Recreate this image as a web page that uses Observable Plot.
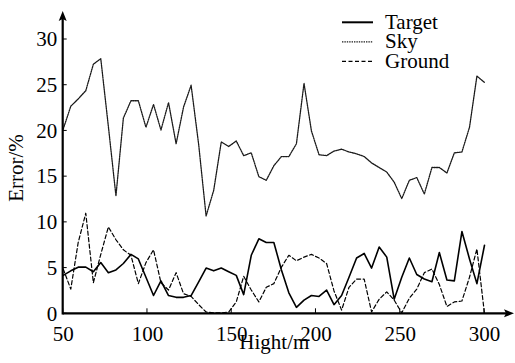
<!DOCTYPE html>
<html>
<head>
<meta charset="utf-8">
<script src="https://cdn.jsdelivr.net/npm/d3@7"></script>
<script src="https://cdn.jsdelivr.net/npm/@observablehq/plot@0.6"></script>
<style>
  html, body { margin: 0; padding: 0; background: white; }
  #chart svg, #chart svg text { font-family: "Liberation Serif", "Times New Roman", Times, serif; }
</style>
</head>
<body>
<div id="chart"></div>
<script>
const heights = [50,54.5,58.9,63.4,67.9,72.3,76.8,81.3,85.7,90.2,94.6,99.1,103.6,108,112.5,117,121.4,125.9,130.4,134.8,139.3,143.8,148.2,152.7,157.1,161.6,166.1,170.5,175,179.5,183.9,188.4,192.9,197.3,201.8,206.3,210.7,215.2,219.6,224.1,228.6,233,237.5,242,246.4,250.9,255.4,259.8,264.3,268.8,273.2,277.7,282.1,286.6,291.1,295.5,300];
const target = [4.2,4.7,5.1,5.1,4.6,5.6,4.5,4.8,5.5,6.5, 6.0,4.0,2.0,3.6,2.0,1.8,1.8,2.0,3.5,5.0, 4.7,5.0,4.6,4.2,2.1,6.4,8.2,7.8,7.8,4.8, 2.3,0.7,1.5,2.0,1.9,2.6,1.0,2.0,4.0,6.1, 6.6,5.0,7.3,6.2,1.6,4.0,6.1,4.3,3.8,3.5, 6.7,3.7,3.6,9.0,6.0,3.3,7.5];
const sky = [20.2,22.7,23.5,24.4,27.3,27.9,20.5,12.9,21.4,23.3, 23.3,20.4,22.9,20.1,23.1,18.6,22.6,25.0,18.5,10.7, 13.5,18.8,18.3,18.9,17.3,17.6,15.0,14.6,16.2,17.2, 17.2,18.6,25.2,20.0,17.4,17.3,17.8,18.0,17.7,17.5, 17.2,16.5,16.0,15.5,14.4,12.6,14.6,14.9,13.1,16.0, 16.0,15.4,17.6,17.7,20.4,26.0,25.3];
const ground = [4.9,2.7,7.8,11.0,3.4,6.5,9.5,8.1,7.0,6.4, 3.3,5.6,7.0,3.4,2.6,4.5,2.2,1.9,1.0,0.2, 0.1,0.1,0.2,1.3,4.1,2.6,1.3,2.9,3.3,5.1, 6.4,5.8,6.2,6.5,6.1,5.5,2.5,0.4,2.9,3.8, 3.8,0.2,1.6,2.4,1.5,0.1,1.7,2.7,4.5,4.9, 3.2,0.8,1.3,1.4,4.0,7.1,0];
const seriesNames = ["Target", "Sky", "Ground"];
const xTicks = [50,100,150,200,250,300];
const yTicks = [0,5,10,15,20,25,30];
const xLabel = "Hight/m";
const yLabel = "Error/%";

const styles = {
  Target: {stroke: "#000", strokeWidth: 1.6, strokeDasharray: null},
  Sky: {stroke: "#1a1a1a", strokeWidth: 1.3, strokeDasharray: "1.4,1"},
  Ground: {stroke: "#000", strokeWidth: 1.2, strokeDasharray: "4,2.5"}
};
const valuesBy = {Target: target, Sky: sky, Ground: ground};
const tables = {};
for (const s of seriesNames) tables[s] = heights.map((h, i) => ({h, v: valuesBy[s][i]}));

const font = "Liberation Serif, Times New Roman, Times, serif";

const chart = Plot.plot({
  width: 515, height: 363,
  marginLeft: 62.7, marginRight: 31, marginTop: 39, marginBottom: 49.7,
  style: {fontFamily: font, fontSize: "21px", background: "white", color: "black", overflow: "visible"},
  x: {domain: [50, 300]},
  y: {domain: [0, 30]},
  marks: [
    Plot.axisX({ticks: xTicks, tickSize: 0, tickPadding: 12, label: null, fontSize: 21, tickFormat: d => String(d)}),
    Plot.axisY({ticks: yTicks, tickSize: 0, tickPadding: 6, label: null, fontSize: 21, tickFormat: d => String(d)}),
    ...seriesNames.map(s => Plot.line(tables[s], {x: "h", y: "v", stroke: styles[s].stroke, strokeWidth: styles[s].strokeWidth, strokeDasharray: styles[s].strokeDasharray || undefined, curve: "linear"}))
  ]
});

document.getElementById("chart").appendChild(chart);

const sx = chart.scale("x"), sy = chart.scale("y");
const svg = d3.select(chart);
svg.attr("font-family", font);
const g = svg.append("g");
const x0 = sx.apply(50), y0 = sy.apply(0);
const xEnd = 515 - 3, yTop = 13;
// axis titles
svg.append("text").attr("x", (sx.apply(50) + sx.apply(300)) / 2 + 1).attr("y", 349)
  .attr("text-anchor", "middle").attr("font-family", font).attr("font-size", 21).attr("fill", "#000").text(xLabel);
svg.append("text").attr("transform", `translate(23,168) rotate(-90)`)
  .attr("text-anchor", "middle").attr("font-family", font).attr("font-size", 21).attr("fill", "#000").text(yLabel);
// axes with arrows and inward ticks
g.append("line").attr("x1", x0).attr("x2", xEnd - 6).attr("y1", y0).attr("y2", y0).attr("stroke", "#000").attr("stroke-width", 2.2);
g.append("line").attr("x1", x0).attr("x2", x0).attr("y1", y0 + 1.1).attr("y2", yTop + 6).attr("stroke", "#000").attr("stroke-width", 2.2);
g.append("path").attr("d", `M${xEnd + 2},${y0} L${xEnd - 8},${y0 - 4} L${xEnd - 6},${y0} L${xEnd - 8},${y0 + 4} Z`).attr("fill", "#000");
g.append("path").attr("d", `M${x0},${yTop - 2} L${x0 - 4},${yTop + 8} L${x0},${yTop + 6} L${x0 + 4},${yTop + 8} Z`).attr("fill", "#000");
for (const t of xTicks) {
  const px = sx.apply(t);
  g.append("line").attr("x1", px).attr("x2", px).attr("y1", y0).attr("y2", y0 - 5).attr("stroke", "#000").attr("stroke-width", 1);
}
for (const t of yTicks) {
  const py = sy.apply(t);
  g.append("line").attr("x1", x0).attr("x2", x0 + 4).attr("y1", py).attr("y2", py).attr("stroke", "#000").attr("stroke-width", 1);
}
// legend
const lg = svg.append("g");
seriesNames.forEach((s, i) => {
  const ly = 22.3 + i * 19.5;
  lg.append("line").attr("x1", 342).attr("x2", 373).attr("y1", ly).attr("y2", ly)
    .attr("stroke", styles[s].stroke).attr("stroke-width", s === "Target" ? 2 : styles[s].strokeWidth)
    .attr("stroke-dasharray", styles[s].strokeDasharray);
  lg.append("text").attr("x", 385).attr("y", ly + 6.5).attr("text-anchor", "start")
    .attr("font-family", font).attr("font-size", 21).attr("fill", "#000").text(s);
});
</script>
</body>
</html>
